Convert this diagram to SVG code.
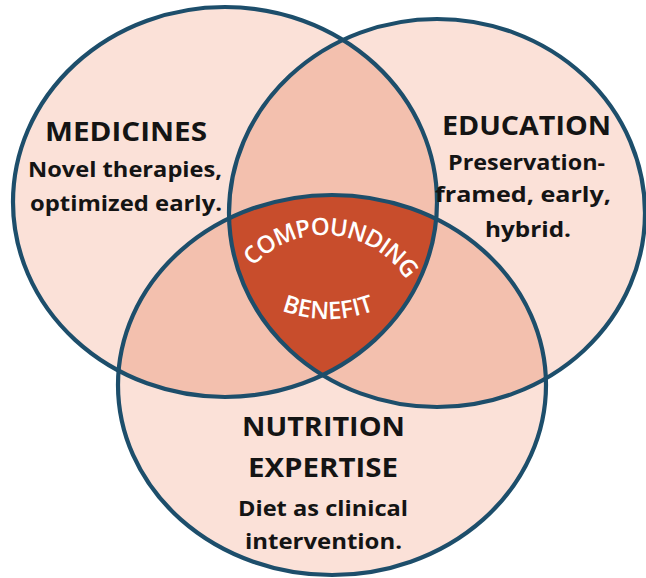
<svg xmlns="http://www.w3.org/2000/svg" width="646" height="578" viewBox="0 0 646 578">
  <defs>
    <!-- the three overlapping areas -->
    <ellipse id="shapeMed" cx="225" cy="202" rx="212" ry="195"/>
    <ellipse id="shapeEdu" cx="437" cy="213" rx="208" ry="194"/>
    <ellipse id="shapeNut" cx="332" cy="385" rx="214" ry="190"/>
    <clipPath id="clipMed"><use href="#shapeMed"/></clipPath>
    <clipPath id="clipEdu"><use href="#shapeEdu"/></clipPath>
    <clipPath id="clipNut"><use href="#shapeNut"/></clipPath>
    <!-- baselines for the curved centre label -->
    <path id="arcTop" d="M227.5,332 A97,97 0 0 1 421.5,332"/>
    <path id="arcBottom" d="M197,188 A131,131 0 0 0 459,188"/>
  </defs>
  <style>
    .base { fill: #fbe1d8; }
    .pair { fill: #f3c0ae; }
    .core { fill: #c84d2c; }
    .ring { fill: none; stroke: #1d4e6b; stroke-width: 4.2; }
    .head { font-family: "Open Sans", "Noto Sans", sans-serif; font-weight: 700; font-size: 26px; fill: #141414; text-anchor: middle; }
    .sub { font-family: "Open Sans", "Noto Sans", sans-serif; font-weight: 700; font-size: 22px; fill: #141414; text-anchor: middle; }
    .arc { font-family: "Open Sans", "Noto Sans", sans-serif; font-weight: 600; font-size: 24px; fill: #ffffff; text-anchor: middle; }
  </style>

  <rect width="646" height="578" fill="#ffffff"/>

  <!-- single-area fills -->
  <g id="fills">
    <use href="#shapeMed" class="base"/>
    <use href="#shapeEdu" class="base"/>
    <use href="#shapeNut" class="base"/>
  </g>

  <!-- pairwise overlaps -->
  <g id="overlaps">
    <use href="#shapeEdu" class="pair" clip-path="url(#clipMed)"/>
    <use href="#shapeNut" class="pair" clip-path="url(#clipMed)"/>
    <use href="#shapeNut" class="pair" clip-path="url(#clipEdu)"/>
  </g>

  <!-- centre: all three overlap -->
  <g id="compounding-benefit">
    <g clip-path="url(#clipMed)">
      <use href="#shapeNut" class="core" clip-path="url(#clipEdu)"/>
    </g>
  </g>

  <g id="medicines">
    <use href="#shapeMed" class="ring"/>
    <text class="head" x="126" y="141" textLength="162" lengthAdjust="spacingAndGlyphs">MEDICINES</text>
    <text class="sub" x="125" y="177" textLength="194" lengthAdjust="spacingAndGlyphs">Novel therapies,</text>
    <text class="sub" x="126" y="211" textLength="192" lengthAdjust="spacingAndGlyphs">optimized early.</text>
  </g>

  <g id="education">
    <use href="#shapeEdu" class="ring"/>
    <text class="head" x="526.5" y="135" textLength="169" lengthAdjust="spacingAndGlyphs">EDUCATION</text>
    <text class="sub" x="526.5" y="170" textLength="157" lengthAdjust="spacingAndGlyphs">Preservation-</text>
    <text class="sub" x="523" y="202" textLength="176" lengthAdjust="spacingAndGlyphs">framed, early,</text>
    <text class="sub" x="528" y="237" textLength="86" lengthAdjust="spacingAndGlyphs">hybrid.</text>
  </g>

  <g id="nutrition-expertise">
    <use href="#shapeNut" class="ring"/>
    <text class="head" x="323.5" y="436" textLength="163" lengthAdjust="spacingAndGlyphs">NUTRITION</text>
    <text class="head" x="323" y="477" textLength="150" lengthAdjust="spacingAndGlyphs">EXPERTISE</text>
    <text class="sub" x="323" y="516" textLength="170" lengthAdjust="spacingAndGlyphs">Diet as clinical</text>
    <text class="sub" x="323.5" y="549" textLength="157" lengthAdjust="spacingAndGlyphs">intervention.</text>
  </g>

  <g id="compounding-label">
    <text class="arc" letter-spacing="-1"><textPath href="#arcTop" startOffset="160">COMPOUNDING</textPath></text>
    <text class="arc"><textPath href="#arcBottom" startOffset="50%">BENEFIT</textPath></text>
  </g>
</svg>
